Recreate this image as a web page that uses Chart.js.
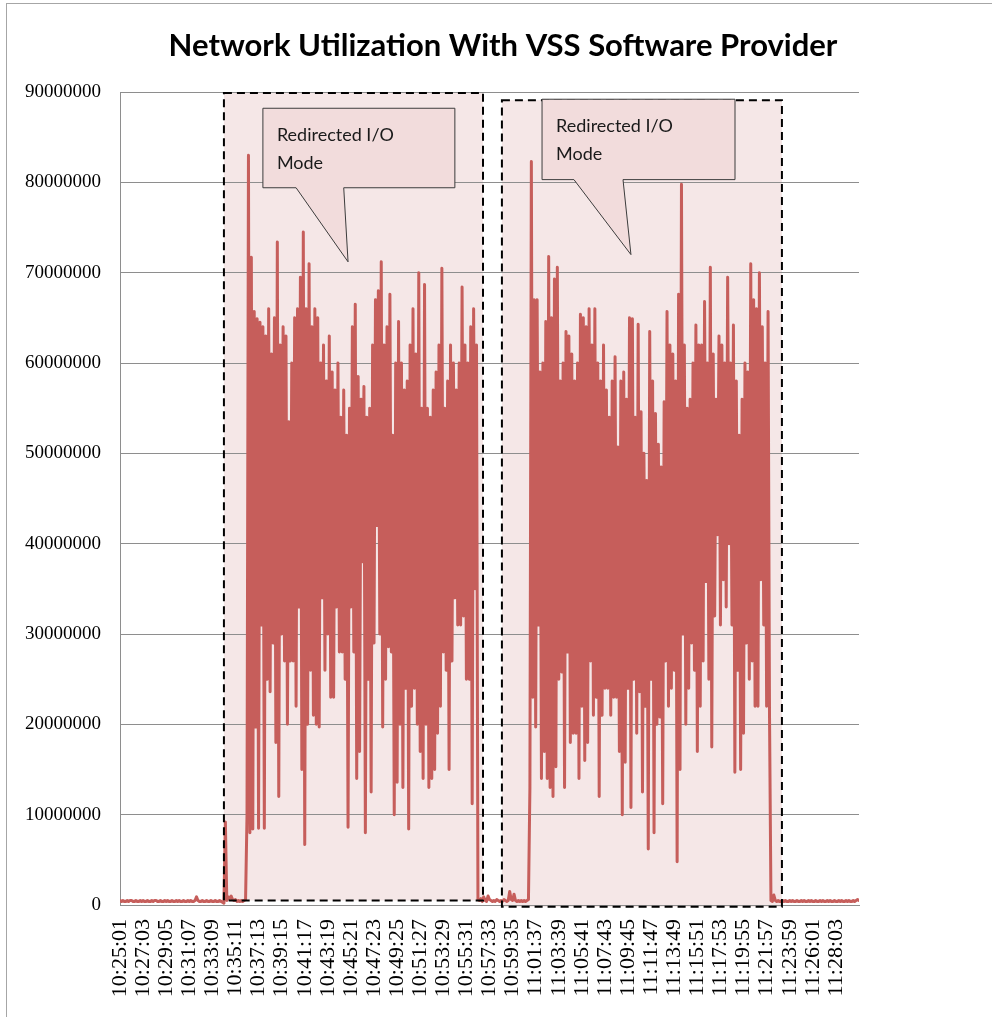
<!DOCTYPE html>
<html lang="en">
<head>
<meta charset="UTF-8" />
<title>Network Utilization With VSS Software Provider</title>
<script src="https://cdn.jsdelivr.net/npm/chart.js"></script>
<style>
  html, body { margin: 0; padding: 0; background: #fff; }
  #wrap { width: 992px; height: 1017px; }
</style>
</head>
<body>
<div id="wrap"><canvas id="netChart" width="992" height="1017"></canvas></div>
<script>
// time labels on the x axis, one every 16 samples
var tickLabels = [
  '10:25:01', '10:27:03', '10:29:05', '10:31:07', '10:33:09', '10:35:11', '10:37:13', '10:39:15',
  '10:41:17', '10:43:19', '10:45:21', '10:47:23', '10:49:25', '10:51:27', '10:53:29', '10:55:31',
  '10:57:33', '10:59:35', '11:01:37', '11:03:39', '11:05:41', '11:07:43', '11:09:45', '11:11:47',
  '11:13:49', '11:15:51', '11:17:53', '11:19:55', '11:21:57', '11:23:59', '11:26:01', '11:28:03'
];
var samplesPerTick = 16;

// network utilization, in millions, one value per sample (513 samples)
var utilMillions = [
  // idle before the first backup
  0.5,0.4,0.5,0.4,0.4,0.5,0.4,0.5,0.5,0.4,
  0.4,0.5,0.4,0.4,0.5,0.4,0.5,0.4,0.4,0.5,
  0.4,0.4,0.5,0.4,0.5,0.5,0.4,0.4,0.5,0.4,
  0.4,0.5,0.4,0.5,0.4,0.4,0.5,0.4,0.4,0.5,
  0.4,0.5,0.4,0.4,0.5,0.4,0.4,0.5,0.4,0.5,
  0.4,0.4,0.5,0.9,0.5,0.4,0.4,0.5,0.4,0.4,
  0.5,0.4,0.4,0.5,0.4,0.4,0.5,0.4,0.4,0.5,
  0.4,0.3,0.2,
  9.2,
  0.5,0.9,0.7,1.0,0.6,0.5,0.6,0.4,0.5,0.4,0.5,0.4,0.5,0.6,
  10,
  // first redirected I/O period
  83,8, 71.7,8.4, 65.7,19.7, 64.9,8.5, 64.5,31, 64,8.5, 63,25, 66,23.6, 61,29, 65,18,
  73.4,12, 62,30, 64,27, 63,20, 53.5,27, 60,27, 65,22, 66,33, 69.5,15, 74.5,6.7,
  66,20, 71,26, 64,21, 66,20, 65,19.7, 60,34, 62,26, 58,30, 63,23, 59,23,
  57,33, 60,28, 54,28, 57,25, 52,8.6, 55,33, 64,28, 66.5,14, 58.5,17, 56,38,
  57.4,8, 54,25, 55,12.5, 62,29, 67,42, 68,30, 71.2,19.7, 62,25, 64,28.6, 67.6,28,
  52,10, 60,13.6, 64.6,20, 60,13, 57,24, 58,8.4, 62,22, 66,24, 61,20, 70,17,
  55,14, 68.7,20, 55,13, 54,14, 57,15, 59,19, 62,22, 70.5,28, 55,26, 58,15,
  62,27, 60,34, 57,31, 60,31, 68.4,32, 62,25, 60,25, 64,11.2, 66,35,
  62,
  // idle between the two periods
  0.6,0.5,0.7,0.4,0.9,0.5,0.4,1.0,0.6,0.5,
  0.4,0.5,0.4,0.6,0.5,0.4,0.5,0.4,0.6,0.5,
  0.4,0.5,1.5,0.6,0.5,1.2,0.5,0.4,0.5,0.4,
  0.5,0.4,0.5,0.4,0.5,0.6,
  13,
  // second redirected I/O period
  82.3,23, 67,19.7, 67,31, 59,14, 60,17, 64.6,14, 71.8,13, 65,12, 69.3,15.3, 70.6,25,
  58,25.8, 60,13, 63.5,28, 63,18, 61,19, 58,19, 60,14, 65.4,22, 65,16, 64,18,
  66,27, 62,21, 66,23, 60,12, 58,21, 62,24, 57,24, 54,21, 58,23, 60.7,23,
  50.7,17, 58,10, 59,15.8, 56,24, 65,10.8, 64.9,25, 54,19, 64.3,23.6, 54.6,12.5, 50,22,
  47,6.2, 63.5,25, 58,8, 54.4,20, 51,20.8, 48.5,11.2, 55.7,27, 65.7,22, 62,24, 61,26,
  58,4.8, 67.6,15, 79.8,30, 62,20, 55,24, 56,29, 60,26, 64.2,17, 62,22, 62,27,
  66.8,35.8, 60,25, 70.6,17.5, 61,32, 56,41, 63,31, 62,36, 60,33, 69.5,40, 60,31,
  64.2,14.7, 58,26, 52,15, 56,19, 60,29, 59,25, 71,27, 67,22, 66,22, 70,36,
  64,31, 60,22, 65.7,21,
  // idle after
  0.5,0.4,1.1,0.5,0.4,0.5,0.4,0.4,0.5,0.4,
  0.5,0.4,0.4,0.5,0.4,0.5,0.4,0.4,0.5,0.4,
  0.4,0.5,0.4,0.5,0.4,0.4,0.5,0.4,0.5,0.4,
  0.4,0.5,0.4,0.4,0.5,0.4,0.5,0.4,0.4,0.5,
  0.4,0.5,0.4,0.4,0.5,0.4,0.4,0.5,0.4,0.5,
  0.4,0.4,0.5,0.4,0.5,0.4,0.4,0.5,0.4,0.5,
  0.6,0.5
];

// dashed regions and callouts, in axis units (sample index / bytes)
var redirectBoxes = [
  { from: 72, to: 251.5, top: 89.9e6, bottom: 0.5e6 },
  { from: 264.6, to: 458.6, top: 89.1e6, bottom: -0.2e6 }
];
var callouts = [
  { from: 99, to: 232, top: 88.2e6, bottom: 79.4e6, base0: 122, base1: 155, tipX: 158, tipY: 71.2e6 },
  { from: 292.4, to: 426.1, top: 89.2e6, bottom: 80.3e6, base0: 314.5, base1: 348.5, tipX: 354, tipY: 72e6 }
];
var calloutLines = ['Redirected I/O', 'Mode'];
var chartTitle = 'Network Utilization With VSS Software Provider';

var decorations = {
  id: 'decorations',
  beforeDraw: function (chart) {
    var ctx = chart.ctx, xs = chart.scales.x, ys = chart.scales.y;
    ctx.save();
    ctx.fillStyle = '#ffffff';
    ctx.fillRect(0, 0, chart.width, chart.height);
    ctx.strokeStyle = '#a6a6a6';
    ctx.lineWidth = 1;
    ctx.strokeRect(6.5, 3.5, chart.width, chart.height);
    ctx.fillStyle = '#f5e7e7';
    redirectBoxes.forEach(function (b) {
      var l = xs.getPixelForValue(b.from), r = xs.getPixelForValue(b.to);
      var t = ys.getPixelForValue(b.top), bt = ys.getPixelForValue(b.bottom);
      ctx.fillRect(l, t, r - l, bt - t);
    });
    ctx.restore();
  },
  afterDatasetsDraw: function (chart) {
    var ctx = chart.ctx, xs = chart.scales.x, ys = chart.scales.y;
    ctx.save();
    // dashed outlines
    ctx.strokeStyle = '#000';
    ctx.lineWidth = 2;
    ctx.setLineDash([8, 5]);
    redirectBoxes.forEach(function (b) {
      var l = xs.getPixelForValue(b.from), r = xs.getPixelForValue(b.to);
      var t = ys.getPixelForValue(b.top), bt = ys.getPixelForValue(b.bottom);
      ctx.strokeRect(l, t, r - l, bt - t);
    });
    ctx.setLineDash([]);
    // callouts
    callouts.forEach(function (c) {
      var l = xs.getPixelForValue(c.from), r = xs.getPixelForValue(c.to);
      var t = ys.getPixelForValue(c.top), bt = ys.getPixelForValue(c.bottom);
      ctx.beginPath();
      ctx.moveTo(l, t);
      ctx.lineTo(r, t);
      ctx.lineTo(r, bt);
      ctx.lineTo(xs.getPixelForValue(c.base1), bt);
      ctx.lineTo(xs.getPixelForValue(c.tipX), ys.getPixelForValue(c.tipY));
      ctx.lineTo(xs.getPixelForValue(c.base0), bt);
      ctx.lineTo(l, bt);
      ctx.closePath();
      ctx.fillStyle = '#f2dcdc';
      ctx.fill();
      ctx.strokeStyle = '#3c3c3c';
      ctx.lineWidth = 1;
      ctx.stroke();
      ctx.fillStyle = '#1a1a1a';
      ctx.font = '18px Lato';
      ctx.textAlign = 'left';
      ctx.textBaseline = 'alphabetic';
      calloutLines.forEach(function (line, i) {
        ctx.fillText(line, l + 14, t + 33 + i * 28);
      });
    });
    ctx.restore();
  },
  afterDraw: function (chart) {
    var ctx = chart.ctx;
    ctx.save();
    ctx.fillStyle = '#000';
    ctx.font = 'bold 31px Lato';
    ctx.textAlign = 'center';
    ctx.textBaseline = 'middle';
    ctx.fillText(chartTitle, 503, 46);
    ctx.restore();
  }
};

var points = utilMillions.map(function (v, i) {
  return { x: i, y: v * 1e6 };
});

var ctx = document.getElementById('netChart').getContext('2d');
var netChart = new Chart(ctx, {
  type: 'line',
  data: {
    datasets: [{
      label: 'Network Utilization',
      data: points,
      borderColor: '#c65e5b',
      borderWidth: 3,
      borderJoinStyle: 'round',
      borderCapStyle: 'round',
      pointRadius: 0,
      fill: false,
      tension: 0
    }]
  },
  options: {
    responsive: false,
    animation: false,
    layout: { padding: { top: 92, left: 0, right: 133, bottom: 0 } },
    plugins: {
      legend: { display: false },
      tooltip: { enabled: false },
      title: { display: false }
    },
    scales: {
      x: {
        type: 'linear',
        min: 0,
        max: tickLabels.length * samplesPerTick,
        afterFit: function (scale) { scale.height = 112; },
        grid: { display: false, drawTicks: false },
        border: { display: true, color: '#8e8e8e', width: 1 },
        ticks: {
          stepSize: samplesPerTick,
          autoSkip: false,
          minRotation: 90,
          maxRotation: 90,
          padding: 14,
          color: '#000',
          font: { family: '"Liberation Serif"', size: 22 },
          callback: function (value) {
            return tickLabels[value / samplesPerTick] || '';
          }
        }
      },
      y: {
        min: 0,
        max: 90000000,
        afterFit: function (scale) { scale.width = 120; },
        grid: { color: '#8e8e8e', lineWidth: 1, drawTicks: false },
        border: { display: true, color: '#8e8e8e', width: 1 },
        ticks: {
          stepSize: 10000000,
          padding: 19,
          color: '#000',
          font: { family: '"Liberation Serif"', size: 19 },
          callback: function (value) { return String(value); }
        }
      }
    }
  },
  plugins: [decorations]
});
</script>
</body>
</html>
